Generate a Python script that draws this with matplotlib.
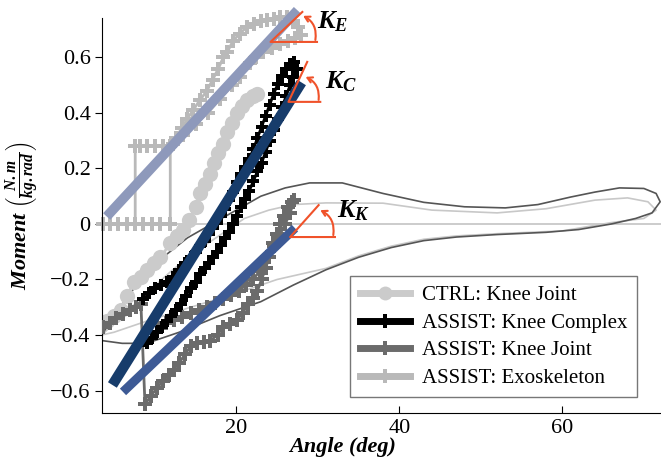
import matplotlib
matplotlib.use('Agg')
import matplotlib.pyplot as plt
from matplotlib.lines import Line2D

plt.rcParams['font.family'] = ['Liberation Serif', 'DejaVu Serif']
plt.rcParams['mathtext.fontset'] = 'custom'
plt.rcParams['mathtext.it'] = 'Liberation Serif:italic:bold'
plt.rcParams['mathtext.rm'] = 'Liberation Serif:bold'
plt.rcParams['mathtext.bf'] = 'Liberation Serif:bold'

# thin full-cycle loops
loopA_ang = [3.5, 5, 8, 11, 14, 17, 20, 23, 26, 29, 33, 38, 43, 48, 53, 57, 61, 64, 67, 70,
             71.5, 72, 71, 69, 66, 62, 58, 52, 47, 43, 39, 35, 31, 27, 23, 18, 13, 9, 6, 3.5]
loopA_mom = [-0.40, -0.33, -0.21, -0.12, -0.05, 0.0, 0.05, 0.10, 0.13, 0.148, 0.148, 0.11, 0.078,
             0.062, 0.058, 0.07, 0.097, 0.115, 0.13, 0.128, 0.11, 0.08, 0.04, 0.02, 0.0, -0.02,
             -0.03, -0.038, -0.047, -0.06, -0.085, -0.12, -0.165, -0.22, -0.28, -0.33, -0.39,
             -0.43, -0.43, -0.42]
loopB_ang = [3.5, 6, 9, 12, 15, 18, 21, 24, 27, 31, 38, 44, 52, 58, 64, 68, 70.5, 71.5, 70, 66,
             60, 52, 47, 43, 39, 35, 31, 25, 20, 14.4, 9, 5, 3.5]
loopB_mom = [-0.40, -0.33, -0.25, -0.17, -0.10, -0.04, 0.02, 0.05, 0.07, 0.076, 0.075, 0.05,
             0.04, 0.055, 0.086, 0.094, 0.08, 0.05, 0.02, 0.005, -0.025, -0.035, -0.043, -0.055,
             -0.08, -0.115, -0.16, -0.20, -0.25, -0.30, -0.35, -0.39, -0.40]

# CTRL: Knee Joint
ctrl_ang = [4.1, 5.0, 5.8, 6.6, 7.4, 8.3, 9.1, 9.9, 10.7, 11.9, 12.7, 13.5, 14.2, 15.0, 15.6,
            16.2, 16.8, 17.3, 17.8, 18.4, 18.9, 19.5, 20.1, 20.7, 21.3, 22.0, 22.6]
ctrl_mom = [-0.35, -0.33, -0.31, -0.26, -0.21, -0.19, -0.165, -0.14, -0.12, -0.07, -0.045, -0.02,
            0.015, 0.06, 0.11, 0.145, 0.18, 0.22, 0.255, 0.29, 0.33, 0.365, 0.40, 0.425, 0.445,
            0.46, 0.47]

# ASSIST: Knee Complex
kc_ang = [8.6, 9.3, 10.0, 10.8, 11.5, 12.2, 13.0, 13.7, 14.4, 15.0, 15.6, 16.1, 16.6, 17.1, 17.6,
          18.1, 18.6, 19.1, 19.6, 20.1, 20.6, 21.1, 21.6, 22.1, 22.6, 23.1, 23.6, 24.1, 24.6,
          25.1, 25.6, 26.1, 26.6, 27.1,
          27.4, 27.0, 26.6, 26.1, 25.6, 25.1, 24.6, 24.1, 23.6, 23.1, 22.6, 22.1, 21.6, 21.1,
          20.6, 20.1, 19.6, 19.1, 18.6, 18.1, 17.6, 17.1, 16.6, 16.1, 15.6, 15.0, 14.4, 13.8,
          13.2, 12.6, 12.0, 11.5, 10.9, 10.3, 9.7, 9.1, 8.7]
kc_mom = [-0.27, -0.25, -0.23, -0.22, -0.21, -0.19, -0.165, -0.14, -0.12, -0.10, -0.08, -0.06,
          -0.035, -0.015, 0.005, 0.03, 0.055, 0.085, 0.115, 0.15, 0.18, 0.205, 0.235, 0.27, 0.31,
          0.35, 0.39, 0.43, 0.47, 0.505, 0.535, 0.56, 0.575, 0.585,
          0.56, 0.53, 0.50, 0.46, 0.42, 0.38, 0.34, 0.30, 0.26, 0.22, 0.19, 0.155, 0.12, 0.09,
          0.06, 0.03, 0.0, -0.03, -0.05, -0.075, -0.10, -0.12, -0.14, -0.16, -0.18, -0.21, -0.23,
          -0.26, -0.29, -0.31, -0.33, -0.35, -0.37, -0.39, -0.41, -0.43, -0.42]

# ASSIST: Knee Joint
kj_ang = [3.7, 4.5, 5.3, 6.1, 6.9, 7.7, 8.3, 8.8, 9.5, 10.3, 11.0, 11.7, 12.3, 13.0, 13.7, 14.4,
          15.2, 16.0, 16.8, 17.7, 18.4, 19.2, 20.1, 20.8, 21.4, 22.0, 22.6, 23.1, 23.6, 24.0,
          24.5, 25.0, 25.4, 25.8, 26.3, 26.8, 27.1, 26.6, 26.0, 25.3, 24.6, 23.8, 22.9, 22.0,
          21.2, 20.3, 19.4, 18.4, 17.4, 16.4, 15.4, 14.4, 13.4, 12.4, 11.4, 10.3]
kj_mom = [-0.37, -0.355, -0.34, -0.325, -0.31, -0.30, -0.29, -0.65, -0.62, -0.59, -0.565, -0.545,
          -0.525, -0.50, -0.47, -0.44, -0.43, -0.425, -0.42, -0.40, -0.37, -0.36, -0.345, -0.32,
          -0.29, -0.265, -0.24, -0.20, -0.16, -0.12, -0.07, -0.035, 0.0, 0.03, 0.06, 0.08, 0.085,
          0.04, 0.0, -0.04, -0.08, -0.12, -0.17, -0.20, -0.22, -0.24, -0.255, -0.27, -0.285,
          -0.30, -0.31, -0.32, -0.335, -0.345, -0.355, -0.36]

# ASSIST: Exoskeleton
ex_ang = [3.7, 4.5, 5.5, 6.6, 7.6, 8.6, 9.6, 10.7, 11.9, 11.9, 12.6, 13.3, 14.0, 14.7, 15.5, 16.4,
          17.1, 17.8, 18.4, 18.9, 19.6, 20.4, 21.3, 22.2, 23.0, 23.8, 24.6, 25.4, 26.2, 27.0,
          27.6, 27.9, 27.2, 26.4, 25.4, 24.4, 23.3, 22.4, 21.7, 20.5, 19.5, 18.0, 16.5, 15.0,
          13.5, 12.2, 11.0, 10.0, 9.1, 8.2, 7.6, 7.6]
ex_mom = [0.0, 0.0, 0.0, 0.0, 0.0, 0.0, 0.0, 0.0, 0.0, 0.28, 0.31, 0.345, 0.38, 0.41, 0.445, 0.48,
          0.52, 0.56, 0.60, 0.62, 0.66, 0.685, 0.71, 0.72, 0.73, 0.735, 0.74, 0.745, 0.745, 0.73,
          0.71, 0.68, 0.67, 0.66, 0.65, 0.635, 0.62, 0.60, 0.58, 0.53, 0.50, 0.45, 0.40, 0.36,
          0.32, 0.29, 0.28, 0.28, 0.28, 0.28, 0.28, 0.0]

# linear stiffness fits (angle, moment end points)
fitE_ang = [4.1, 27.5]
fitE_mom = [0.027, 0.77]
fitC_ang = [4.8, 28.0]
fitC_mom = [-0.58, 0.51]
fitK_ang = [6.1, 27.2]
fitK_mom = [-0.605, -0.015]

# angle markers: vertex, horizontal end, slope end, label position
stiff_names = ['$K_E$', '$K_C$', '$K_K$']
vertex = [(24.2, 0.656), (26.4, 0.44), (26.6, -0.047)]
horiz_end = [29.9, 30.3, 32.1]
slope_end = [(28.1, 0.764), (28.7, 0.584), (30.1, 0.068)]
arc_start = [(29.7, 0.663), (30.1, 0.447), (31.9, -0.04)]
arc_end = [(28.2, 0.750), (28.5, 0.53), (30.3, 0.05)]
label_pos = [(29.9, 0.705), (30.9, 0.49), (32.4, 0.022)]

orange = '#f0522a'
c_ctrl = '#cbcbcb'
c_kc = '#000000'
c_kj = '#6b6b6b'
c_ex = '#b9b9b9'

fig = plt.figure(figsize=(6.61, 4.63), dpi=100)
ax = fig.add_axes([0.154, 0.108, 0.846, 0.853])

ax.axhline(0, color='#c4c4c4', lw=1.2, zorder=1)
ax.plot(loopB_ang, loopB_mom, color='#c8c8c8', lw=1.2, zorder=1)
ax.plot(loopA_ang, loopA_mom, color='#555555', lw=1.2, zorder=1)

ax.plot(ctrl_ang, ctrl_mom, color=c_ctrl, lw=2, marker='o', ms=11, mew=0, zorder=2)
ax.plot(ex_ang, ex_mom, color=c_ex, lw=2, marker='P', ms=9.5, mew=0, zorder=2, clip_on=False)
ax.plot(kj_ang, kj_mom, color=c_kj, lw=2, marker='P', ms=9.5, mew=0, zorder=3)
ax.plot(kc_ang, kc_mom, color=c_kc, lw=2, marker='P', ms=9, mew=0, zorder=4)

ax.plot(fitE_ang, fitE_mom, color='#8e99bb', lw=7, solid_capstyle='butt', zorder=5, clip_on=False)
ax.plot(fitC_ang, fitC_mom, color='#173c6b', lw=7.5, solid_capstyle='butt', zorder=5)
ax.plot(fitK_ang, fitK_mom, color='#3d5a95', lw=6.5, solid_capstyle='butt', zorder=5)

for i in range(3):
    vx, vy = vertex[i]
    ax.plot([horiz_end[i], vx, slope_end[i][0]], [vy, vy, slope_end[i][1]],
            color=orange, lw=1.5, zorder=6, clip_on=False)
    ax.annotate('', xy=arc_end[i], xytext=arc_start[i], zorder=6, annotation_clip=False,
                arrowprops=dict(arrowstyle='->,head_length=0.35,head_width=0.2',
                                color=orange, lw=1.5, shrinkA=0, shrinkB=0,
                                connectionstyle='arc3,rad=0.35'))
    ax.text(label_pos[i][0], label_pos[i][1], stiff_names[i], fontsize=19,
            ha='left', va='baseline', zorder=7)

ax.set_xlim(3.5, 72.1)
ax.set_ylim(-0.681, 0.742)
ax.set_xticks([20, 40, 60])
ax.set_yticks([-0.6, -0.4, -0.2, 0, 0.2, 0.4, 0.6])
ax.set_yticklabels(['\u22120.6', '\u22120.4', '\u22120.2', '0', '0.2', '0.4', '0.6'])
ax.spines['top'].set_visible(False)
ax.spines['right'].set_visible(False)
ax.tick_params(axis='x', direction='in', length=5, labelsize=16, pad=4)
ax.tick_params(axis='y', direction='out', length=5, labelsize=16, pad=3)

ax.set_xlabel('Angle (deg)', fontsize=16, fontweight='bold', style='italic')
ax.xaxis.set_label_coords(0.431, -0.06)
ax.set_ylabel(r'Moment $\left(\frac{N.m}{kg.rad}\right)$', fontsize=16,
              fontweight='bold', style='italic')
ax.yaxis.set_label_coords(-0.11, 0.5)

handles = [
    Line2D([], [], color=c_ctrl, lw=5, marker='o', ms=10, mew=0),
    Line2D([], [], color=c_kc, lw=5, marker='P', ms=10, mew=0),
    Line2D([], [], color=c_kj, lw=5, marker='P', ms=10, mew=0),
    Line2D([], [], color=c_ex, lw=5, marker='P', ms=10, mew=0),
]
labels = ['CTRL: Knee Joint', 'ASSIST: Knee Complex', 'ASSIST: Knee Joint', 'ASSIST: Exoskeleton']
leg = ax.legend(handles, labels, loc='lower right', bbox_to_anchor=(0.957, 0.04),
                borderaxespad=0, fontsize=15, fancybox=False, framealpha=1,
                edgecolor='#777777', handlelength=2.4, labelspacing=0.38,
                borderpad=0.45, handletextpad=0.6)
leg.get_frame().set_linewidth(1.0)
leg.set_zorder(8)

fig.savefig('out.png', dpi=100)
